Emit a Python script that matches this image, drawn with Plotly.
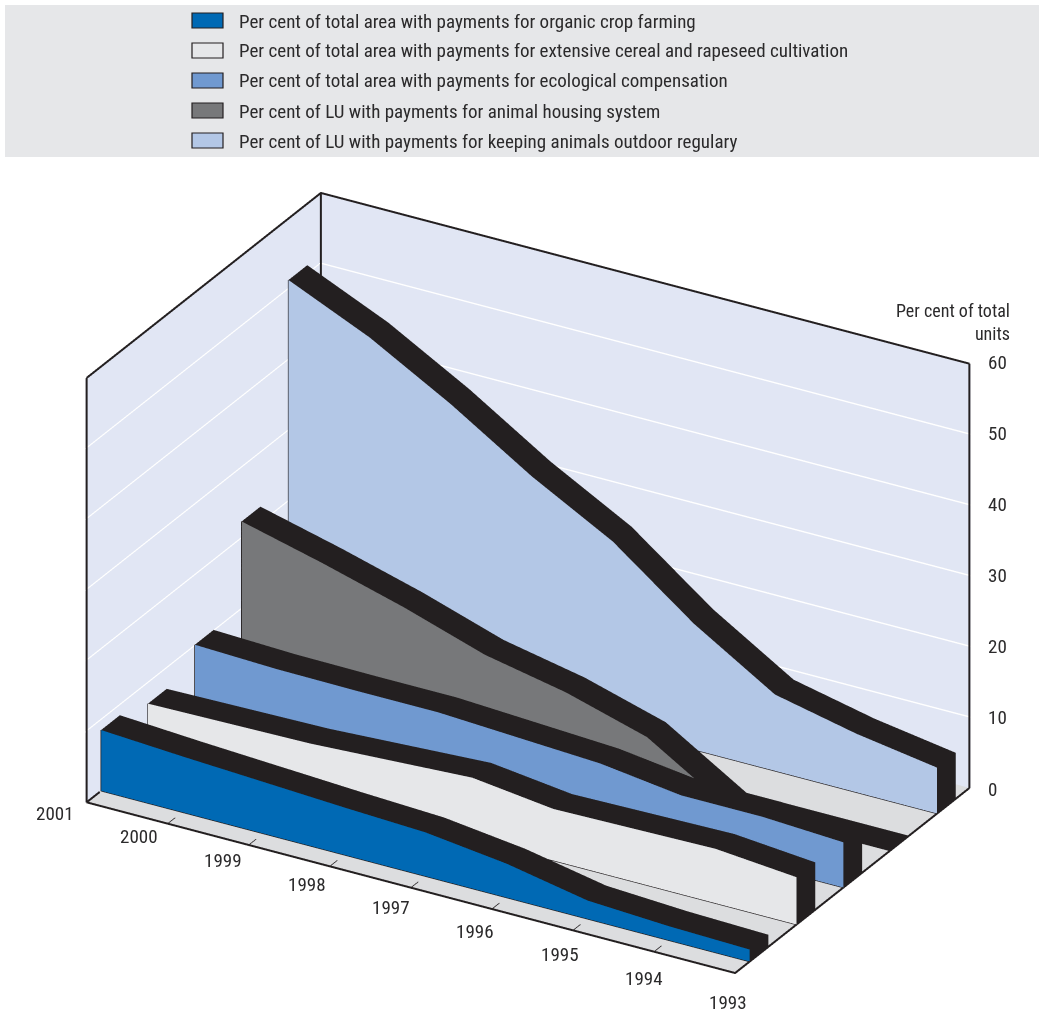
import plotly.graph_objects as go

YEARS = [2001, 2000, 1999, 1998, 1997, 1996, 1995, 1994, 1993]
ORGANIC = [8.6, 7.9, 7.3, 6.7, 6.2, 4.8, 2.6, 2.0, 1.7]
EXTENSIVE = [7.1, 7.3, 7.5, 8.1, 8.7, 7.3, 7.5, 7.7, 6.7]
ECOLOGICAL = [10.2, 9.8, 9.7, 9.7, 9.1, 8.5, 7.0, 7.0, 6.4]
HOUSING = [22.4, 19.5, 16.3, 12.6, 10.3, 7.0, 0, 0, 0]
OUTDOOR = [51.3, 46.2, 39.8, 32.6, 26.4, 17.8, 10.8, 8.3, 6.5]

SERIES_NAMES = [
    "Per cent of total area with payments for organic crop farming",
    "Per cent of total area with payments for extensive cereal and rapeseed cultivation",
    "Per cent of total area with payments for ecological compensation",
    "Per cent of LU with payments for animal housing system",
    "Per cent of LU with payments for keeping animals outdoor regulary",
]
SERIES_VALUES = [ORGANIC, EXTENSIVE, ECOLOGICAL, HOUSING, OUTDOOR]
SERIES_COLORS = ["#0069B4", "#E6E7E9", "#7099D0", "#77787A", "#B3C7E6"]
BLACK = "#231F20"
TEXT = "#2b2a2b"
FONT = "Roboto Condensed"
W, H = 1039, 1011
DEPTH = 5
BAND = (0.31, 0.71)
Z_TICKS = [0, 10, 20, 30, 40, 50, 60]
PAD = 0.01

FLAT = dict(ambient=1, diffuse=0, specular=0, roughness=1, fresnel=0)


def px(x):
    return x / W


def py(y):
    return 1 - y / H


def mesh(xs, ys, zs, tris, color):
    return go.Mesh3d(
        x=xs, y=ys, z=zs,
        i=[t[0] for t in tris], j=[t[1] for t in tris], k=[t[2] for t in tris],
        color=color, opacity=1, flatshading=True, lighting=FLAT,
        hoverinfo="skip", showscale=False,
    )


def line3d(xs, ys, zs, width, color=BLACK):
    return go.Scatter3d(
        x=xs, y=ys, z=zs, mode="lines", line=dict(color=color, width=width),
        hoverinfo="skip", showlegend=False,
    )


fig = go.Figure()
n = len(YEARS)
for s, (vals, col) in enumerate(zip(SERIES_VALUES, SERIES_COLORS)):
    yf, yb = DEPTH - (s + BAND[0]), DEPTH - (s + BAND[1])

    # coloured front face of the ribbon
    xs, ys, zs, tris = [], [], [], []
    for yr, v in zip(YEARS, vals):
        xs += [yr, yr]
        ys += [yf, yf]
        zs += [0, v]
    for t in range(n - 1):
        a = 2 * t
        tris += [(a, a + 2, a + 3), (a, a + 3, a + 1)]
    fig.add_trace(mesh(xs, ys, zs, tris, col))

    # black top surface
    xs, ys, zs, tris = [], [], [], []
    for yr, v in zip(YEARS, vals):
        xs += [yr, yr]
        ys += [yf, yb]
        zs += [v, v]
    for t in range(n - 1):
        a = 2 * t
        tris += [(a, a + 2, a + 3), (a, a + 3, a + 1)]
    fig.add_trace(mesh(xs, ys, zs, tris, BLACK))

    # black end cap at the last year
    fig.add_trace(mesh([YEARS[-1]] * 4, [yf, yb, yb, yf], [0, 0, vals[-1], vals[-1]],
                       [(0, 1, 2), (0, 2, 3)], BLACK))

    # thin outline along the foot and the first year of the face
    fig.add_trace(line3d([YEARS[-1], YEARS[0], YEARS[0]], [yf, yf, yf], [0, 0, vals[0]], 2.5))

# frame of the box
y0, y1 = YEARS[-1], YEARS[0]
fig.add_trace(line3d([y1, y0, y0], [DEPTH, DEPTH, 0], [0, 0, 0], 4))
fig.add_trace(line3d([y1, y1, None, y0, y0], [DEPTH, DEPTH, None, 0, 0], [0, 60, None, 0, 60], 4))
fig.add_trace(line3d([y1, y1, y0], [DEPTH, 0, 0], [60, 60, 60], 4))
fig.add_trace(line3d([y1, y1], [0, 0], [0, 60], 4))
fig.add_trace(line3d([y1, y1], [DEPTH, 4.72], [0, 0], 4))

# year ticks on the floor
tx, ty, tz = [], [], []
for yr in YEARS[1:-1]:
    tx += [yr, yr, None]
    ty += [DEPTH, DEPTH - 0.16, None]
    tz += [0, 0, None]
fig.add_trace(line3d(tx, ty, tz, 1.5))

annotations3d = []
for i, yr in enumerate(YEARS):
    annotations3d.append(dict(
        x=yr, y=DEPTH, z=0, text=str(yr), showarrow=False,
        xshift=-32 + 3.1 * i, yshift=-(11 + 2.25 * i),
        font=dict(family=FONT, size=19, color=TEXT),
    ))
for v in Z_TICKS:
    annotations3d.append(dict(
        x=YEARS[-1], y=0, z=v, text=str(v), showarrow=False,
        xanchor="left", xshift=17, yshift=-1 + v * 0.04,
        font=dict(family=FONT, size=19, color=TEXT),
    ))

axis_common = dict(
    showticklabels=False, ticks="", title="", showspikes=False, zeroline=False,
    showline=False, showbackground=True,
)
EYE = 3.0
fig.update_layout(
    width=W, height=H, margin=dict(l=0, r=0, t=0, b=0),
    paper_bgcolor="white", showlegend=False,
    scene=dict(
        domain=dict(x=[17 / W, 1], y=[0, 1 - 155 / H]),
        bgcolor="rgba(0,0,0,0)",
        aspectmode="manual",
        aspectratio=dict(x=1.754, y=1.099, z=1.116),
        xaxis=dict(axis_common, range=[YEARS[-1] - PAD, YEARS[0] + PAD], showgrid=False,
                   backgroundcolor="#E1E6F4"),
        yaxis=dict(axis_common, range=[-PAD, DEPTH + PAD], showgrid=False, backgroundcolor="#E1E6F4"),
        zaxis=dict(axis_common, range=[-0.05, 60.05], tickvals=Z_TICKS[1:], showgrid=True, gridcolor="white",
                   gridwidth=3, backgroundcolor="#DCDDDF"),
        camera=dict(
            projection=dict(type="orthographic"),
            up=dict(x=0, y=0, z=1),
            center=dict(x=0, y=0, z=0),
            eye=dict(x=-0.5 * 0.89 * EYE, y=0.866 * 0.89 * EYE, z=0.456 * EYE),
        ),
        annotations=annotations3d,
    ),
)

# legend block above the chart
shapes = [dict(type="rect", xref="paper", yref="paper", x0=px(5), x1=1, y0=py(157), y1=py(5),
               fillcolor="#E6E7E9", line=dict(width=0), layer="below")]
notes = []
for r, (name, col) in enumerate(zip(SERIES_NAMES, SERIES_COLORS)):
    top = 13 + 30 * r
    shapes.append(dict(type="rect", xref="paper", yref="paper", x0=px(192), x1=px(223),
                       y0=py(top + 15), y1=py(top), fillcolor=col,
                       line=dict(color=BLACK, width=1.2)))
    notes.append(dict(xref="paper", yref="paper", x=px(237), y=py(top + 8), text=name,
                      showarrow=False, xanchor="left", yanchor="middle",
                      font=dict(family=FONT, size=19, color=TEXT)))
notes.append(dict(xref="paper", yref="paper", x=px(1012), y=py(322),
                  text="Per cent of total<br>units", showarrow=False, align="right",
                  xanchor="right", yanchor="middle",
                  font=dict(family=FONT, size=18, color=TEXT)))
fig.update_layout(shapes=shapes, annotations=notes)

fig.write_html("out.html")
